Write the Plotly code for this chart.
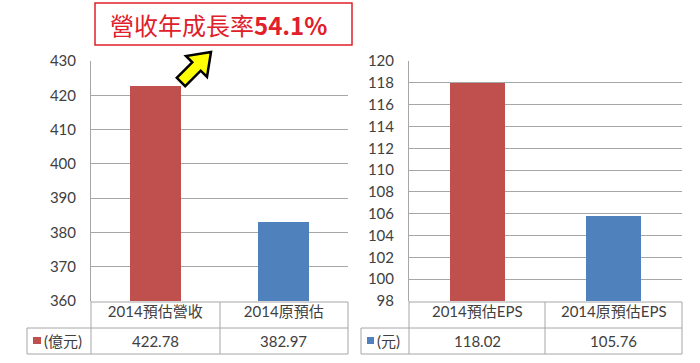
import plotly.graph_objects as go

# ---- data ----
rev_categories = ["2014預估營收", "2014原預估"]
rev_values = [422.78, 382.97]
rev_unit = "(億元)"
eps_categories = ["2014預估EPS", "2014原預估EPS"]
eps_values = [118.02, 105.76]
eps_unit = "(元)"
title_text = "營收年成長率"
growth_text = "54.1%"

RED = "#C0504D"
BLUE = "#4F81BD"
GRID = "#A6A6A6"
TXT = "#404040"
FONT = "Lato, Noto Sans CJK TC, sans-serif"
CJK = "Lato, Noto Sans CJK TC, sans-serif"

W, H = 700, 363


def px(x):
    return x / W


def py(y):
    return 1 - y / H


fig = go.Figure()
fig.add_trace(go.Bar(x=rev_categories, y=rev_values, marker_color=[RED, BLUE],
                     width=0.40, xaxis="x", yaxis="y", showlegend=False,
                     hoverinfo="skip"))
fig.add_trace(go.Bar(x=eps_categories, y=eps_values, marker_color=[RED, BLUE],
                     width=0.40, xaxis="x2", yaxis="y2", showlegend=False,
                     hoverinfo="skip"))

ydom = [py(301), py(61)]
common_x = dict(showgrid=False, showline=False, zeroline=False, ticks="",
                automargin=False,
                tickfont=dict(family=CJK, size=15, color=TXT), fixedrange=True)
common_y = dict(showgrid=True, gridcolor=GRID, gridwidth=1, zeroline=False,
                automargin=False,
                showline=True, linecolor=GRID, linewidth=1, ticks="",
                tickfont=dict(family=FONT, size=15, color=TXT), ticklabelstandoff=11)

fig.update_layout(
    template="none",
    width=W, height=H, margin=dict(l=0, r=0, t=0, b=0, pad=0, autoexpand=False),
    paper_bgcolor="white", plot_bgcolor="white", bargap=0,
    xaxis=dict(domain=[px(91), px(348)], anchor="y", **common_x),
    yaxis=dict(domain=ydom, range=[360, 430], dtick=10, anchor="x", **common_y),
    xaxis2=dict(domain=[px(409), px(682)], anchor="y2", **common_x),
    yaxis2=dict(domain=ydom, range=[98, 120], dtick=2, anchor="x2", **common_y),
)

shapes = []


def line(x0, y0, x1, y1, color=GRID, w=1):
    shapes.append(dict(type="line", xref="paper", yref="paper",
                       x0=px(x0), y0=py(y0), x1=px(x1), y1=py(y1),
                       line=dict(color=color, width=w)))


# left table
line(91, 302, 348, 302)
line(27, 328, 348, 328)
line(27, 354, 348, 354)
line(27, 328, 27, 354)
line(91, 301, 91, 354)
line(220, 302, 220, 354)
line(348, 302, 348, 354)
# right table
line(409, 302, 682, 302)
line(361, 328, 682, 328)
line(361, 354, 682, 354)
line(361, 328, 361, 354)
line(409, 301, 409, 354)
line(545, 302, 545, 354)
line(682, 302, 682, 354)

# legend keys
shapes.append(dict(type="rect", xref="paper", yref="paper",
                   x0=px(33), x1=px(41), y0=py(344), y1=py(337),
                   fillcolor=RED, line=dict(width=0)))
shapes.append(dict(type="rect", xref="paper", yref="paper",
                   x0=px(367), x1=px(374), y0=py(344), y1=py(337),
                   fillcolor=BLUE, line=dict(width=0)))

# title box
shapes.append(dict(type="rect", xref="paper", yref="paper",
                   x0=px(95), x1=px(352), y0=py(45), y1=py(3),
                   fillcolor="white", line=dict(color="#E0202A", width=1.5)))

# arrow
pts = [(211, 52), (186, 56), (192.3, 62.3), (176.8, 77.8), (185.2, 86.2),
       (200.7, 70.7), (207, 77)]
path = "M " + " L ".join(f"{px(x):.5f},{py(y):.5f}" for x, y in pts) + " Z"
shapes.append(dict(type="path", xref="paper", yref="paper", path=path,
                   fillcolor="#FFFF00", line=dict(color="black", width=2.5)))

fig.update_layout(shapes=shapes)

ann = []
for cat, v in zip(rev_categories, rev_values):
    ann.append(dict(x=cat, xref="x", y=py(341), yref="paper", text=f"{v:.2f}",
                    xanchor="center", yanchor="middle",
                    showarrow=False, font=dict(family=FONT, size=15, color=TXT)))
for cat, v in zip(eps_categories, eps_values):
    ann.append(dict(x=cat, xref="x2", y=py(341), yref="paper", text=f"{v:.2f}",
                    xanchor="center", yanchor="middle",
                    showarrow=False, font=dict(family=FONT, size=15, color=TXT)))
ann.append(dict(x=px(42), y=py(341), xref="paper", yref="paper", xanchor="left",
                yanchor="middle",
                text=rev_unit, showarrow=False, font=dict(family=CJK, size=15, color=TXT)))
ann.append(dict(x=px(375), y=py(341), xref="paper", yref="paper", xanchor="left",
                yanchor="middle",
                text=eps_unit, showarrow=False, font=dict(family=CJK, size=15, color=TXT)))
ann.append(dict(x=px(218), y=py(24), xref="paper", yref="paper",
                xanchor="center", yanchor="middle",
                text=f"{title_text}<b>{growth_text}</b>", showarrow=False,
                font=dict(family="Noto Sans CJK TC, sans-serif", size=24, color="#E0202A")))
fig.update_layout(annotations=ann)

fig.write_html("out.html", config={"displayModeBar": False},
               post_script="document.body.style.margin='0';document.body.style.overflow='hidden';")
